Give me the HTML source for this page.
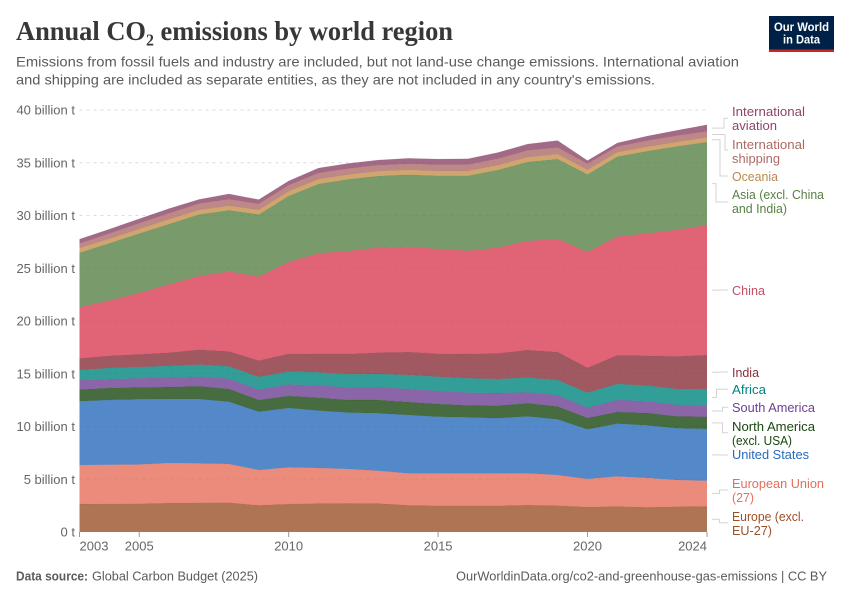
<!DOCTYPE html>
<html lang="en">
<head>
<meta charset="utf-8">
<title>Annual CO2 emissions by world region</title>
<style>
html,body{margin:0;padding:0;background:#fff;}
svg{display:block;font-family:"Liberation Sans",sans-serif;}
</style>
</head>
<body>
<svg id="chart" xmlns="http://www.w3.org/2000/svg" width="850" height="600" viewBox="0 0 850 600">
  <rect x="0" y="0" width="850" height="600" fill="#fff"/>
  <text x="16" y="40" font-family="'Liberation Serif',serif" font-weight="700" font-size="27" fill="#373737" textLength="437" lengthAdjust="spacingAndGlyphs">Annual CO₂ emissions by world region</text>
  <text x="16" y="66.5" font-size="14" fill="#5b5b5b" textLength="723" lengthAdjust="spacingAndGlyphs">Emissions from fossil fuels and industry are included, but not land-use change emissions. International aviation</text>
  <text x="16" y="84.5" font-size="14" fill="#5b5b5b" textLength="639" lengthAdjust="spacingAndGlyphs">and shipping are included as separate entities, as they are not included in any country's emissions.</text>

  <g>
    <rect x="769" y="16" width="65" height="36" fill="#002147"/>
    <rect x="769" y="49.5" width="65" height="2.5" fill="#ce261e"/>
    <text x="801.5" y="31" text-anchor="middle" font-size="12" font-weight="700" fill="#fff" textLength="55" lengthAdjust="spacingAndGlyphs">Our World</text>
    <text x="801.5" y="43.5" text-anchor="middle" font-size="12" font-weight="700" fill="#fff" textLength="37" lengthAdjust="spacingAndGlyphs">in Data</text>
  </g>

  <g id="grid"></g>
  <g id="areas"></g>
  <g id="yticks"></g>
  <g id="xticks"></g>
  <g id="connectors"></g>

  <g font-size="13">
    <g fill="#8c4569">
      <text x="732" y="116" textLength="73" lengthAdjust="spacingAndGlyphs">International</text>
      <text x="732" y="130" textLength="45" lengthAdjust="spacingAndGlyphs">aviation</text>
    </g>
    <g fill="#ad6a66">
      <text x="732" y="149" textLength="73" lengthAdjust="spacingAndGlyphs">International</text>
      <text x="732" y="163" textLength="48" lengthAdjust="spacingAndGlyphs">shipping</text>
    </g>
    <g fill="#b98a4e">
      <text x="732" y="181" textLength="46" lengthAdjust="spacingAndGlyphs">Oceania</text>
    </g>
    <g fill="#578145">
      <text x="732" y="199" textLength="92" lengthAdjust="spacingAndGlyphs">Asia (excl. China</text>
      <text x="732" y="213" textLength="55" lengthAdjust="spacingAndGlyphs">and India)</text>
    </g>
    <g fill="#c15065">
      <text x="732" y="295" textLength="33" lengthAdjust="spacingAndGlyphs">China</text>
    </g>
    <g fill="#883039">
      <text x="732" y="377" textLength="27" lengthAdjust="spacingAndGlyphs">India</text>
    </g>
    <g fill="#00847e">
      <text x="732" y="394" textLength="34" lengthAdjust="spacingAndGlyphs">Africa</text>
    </g>
    <g fill="#6d3e91">
      <text x="732" y="412" textLength="83" lengthAdjust="spacingAndGlyphs">South America</text>
    </g>
    <g fill="#18470f">
      <text x="732" y="431" textLength="83" lengthAdjust="spacingAndGlyphs">North America</text>
      <text x="732" y="445" textLength="60" lengthAdjust="spacingAndGlyphs">(excl. USA)</text>
    </g>
    <g fill="#286bbb">
      <text x="732" y="459" textLength="77" lengthAdjust="spacingAndGlyphs">United States</text>
    </g>
    <g fill="#e56e5a">
      <text x="732" y="488" textLength="92" lengthAdjust="spacingAndGlyphs">European Union</text>
      <text x="732" y="502" textLength="22" lengthAdjust="spacingAndGlyphs">(27)</text>
    </g>
    <g fill="#9a5129">
      <text x="732" y="521" textLength="72" lengthAdjust="spacingAndGlyphs">Europe (excl.</text>
      <text x="732" y="535" textLength="40" lengthAdjust="spacingAndGlyphs">EU-27)</text>
    </g>
  </g>

  <text x="16" y="580.5" font-size="13" font-weight="700" fill="#5b5b5b" textLength="72" lengthAdjust="spacingAndGlyphs">Data source:</text>
  <text x="92" y="580.5" font-size="13" fill="#5b5b5b" textLength="166" lengthAdjust="spacingAndGlyphs">Global Carbon Budget (2025)</text>
  <text x="456" y="580.5" font-size="13" fill="#5b5b5b" textLength="371" lengthAdjust="spacingAndGlyphs">OurWorldinData.org/co2-and-greenhouse-gas-emissions | CC BY</text>
</svg>

<script>
const years = [2003,2004,2005,2006,2007,2008,2009,2010,2011,2012,2013,2014,2015,2016,2017,2018,2019,2020,2021,2022,2023,2024];

// Annual emissions, billion tonnes (stack order: bottom to top)
const europe = [2.65,2.67,2.68,2.75,2.77,2.78,2.53,2.66,2.70,2.72,2.70,2.53,2.49,2.49,2.49,2.56,2.50,2.37,2.43,2.34,2.40,2.43];
const europeanUnion = [3.70,3.71,3.72,3.79,3.73,3.66,3.35,3.47,3.37,3.25,3.10,3.03,3.07,3.07,3.07,3.00,2.90,2.65,2.84,2.78,2.53,2.43];
const unitedStates = [6.04,6.13,6.18,6.06,6.10,5.91,5.52,5.62,5.43,5.34,5.45,5.53,5.37,5.31,5.22,5.40,5.28,4.71,5.00,4.99,4.90,4.90];
const northAmerica = [1.10,1.14,1.13,1.14,1.21,1.20,1.11,1.14,1.23,1.20,1.26,1.23,1.20,1.13,1.19,1.24,1.22,1.07,1.10,1.17,1.13,1.17];
const southAmerica = [0.89,0.85,0.86,0.89,0.91,0.98,0.98,1.09,1.14,1.20,1.20,1.23,1.23,1.20,1.21,1.04,1.06,0.98,1.14,1.11,1.08,1.07];
const africa = [0.98,1.04,1.07,1.10,1.14,1.17,1.20,1.23,1.26,1.24,1.27,1.33,1.36,1.37,1.32,1.39,1.45,1.42,1.52,1.48,1.51,1.52];
const india = [1.10,1.17,1.20,1.27,1.42,1.42,1.55,1.69,1.74,1.92,2.02,2.18,2.18,2.30,2.43,2.62,2.65,2.37,2.72,2.84,3.10,3.26];
const china = [4.84,5.22,5.81,6.47,6.99,7.56,7.96,8.69,9.54,9.76,9.95,9.98,9.92,9.79,10.02,10.33,10.71,10.97,11.25,11.59,12.00,12.29];
const asia = [5.17,5.44,5.65,5.73,5.83,5.82,5.90,6.26,6.58,6.80,6.79,6.83,6.95,7.11,7.36,7.49,7.58,7.36,7.58,7.80,7.90,7.90];
const oceania = [0.42,0.41,0.42,0.43,0.42,0.41,0.42,0.44,0.44,0.45,0.45,0.44,0.44,0.45,0.45,0.45,0.45,0.42,0.41,0.42,0.42,0.42];
const shipping = [0.46,0.52,0.54,0.58,0.60,0.63,0.58,0.58,0.60,0.58,0.58,0.58,0.60,0.60,0.62,0.65,0.65,0.58,0.55,0.58,0.60,0.58];
const aviation = [0.40,0.40,0.42,0.44,0.40,0.50,0.40,0.40,0.46,0.47,0.48,0.52,0.53,0.55,0.58,0.60,0.65,0.30,0.33,0.42,0.50,0.62];

const yTickValues = [0,5,10,15,20,25,30,35,40];
const yTickLabels = ["0 t","5 billion t","10 billion t","15 billion t","20 billion t","25 billion t","30 billion t","35 billion t","40 billion t"];
const xTickYears = [2003,2005,2010,2015,2020,2024];

const seriesValues = [europe,europeanUnion,unitedStates,northAmerica,southAmerica,africa,india,china,asia,oceania,shipping,aviation];
const seriesNames = ["europe","european-union","united-states","north-america","south-america","africa","india","china","asia","oceania","international-shipping","international-aviation"];
const seriesColors = ["#9a5129","#e56e5a","#286bbb","#18470f","#6d3e91","#00847e","#883039","#d93c54","#578145","#c4904a","#ad6a66","#8c4569"];

const NS = "http://www.w3.org/2000/svg";
const plotLeft = 79.5, plotRight = 707, plotTop = 110, plotBottom = 532, yMax = 40;
function xScale(year){
  return plotLeft + (year - years[0]) / (years[years.length-1] - years[0]) * (plotRight - plotLeft);
}
function yScale(v){
  return plotBottom - v / yMax * (plotBottom - plotTop);
}
function make(tag, parent){
  const el = document.createElementNS(NS, tag);
  document.getElementById(parent).appendChild(el);
  return el;
}

// Grid
yTickValues.forEach(function(v, i){
  if (v === 0) return;
  const line = make("line", "grid");
  
  
  line.setAttribute("x1", plotLeft);
  line.setAttribute("x2", plotRight);
  line.setAttribute("y1", yScale(v));
  line.setAttribute("y2", yScale(v));
  line.setAttribute("stroke", "#dddddd");
  line.setAttribute("stroke-dasharray", "3,4");
});

// Stacked areas
const baseline = years.map(function(){ return 0; });
const bandMiddles = [];
seriesValues.forEach(function(values, s){
  const tops = values.map(function(v, i){ return baseline[i] + v; });
  const upper = years.map(function(y, i){ return xScale(y).toFixed(2) + "," + yScale(tops[i]).toFixed(2); });
  const lower = years.map(function(y, i){ return xScale(y).toFixed(2) + "," + yScale(baseline[i]).toFixed(2); }).reverse();
  const last = years.length - 1;
  bandMiddles.push((baseline[last] + tops[last]) / 2);

  const area = make("polygon", "areas");
  
  
  area.setAttribute("points", upper.concat(lower).join(" "));
  area.setAttribute("fill", seriesColors[s]);
  area.setAttribute("fill-opacity", "0.8");

  const edge = make("polyline", "areas");
  
  
  edge.setAttribute("points", upper.join(" "));
  edge.setAttribute("fill", "none");
  edge.setAttribute("stroke", seriesColors[s]);
  edge.setAttribute("stroke-opacity", "0.35");
  edge.setAttribute("stroke-width", "0.5");

  tops.forEach(function(t, i){ baseline[i] = t; });
});

// Y axis labels
yTickValues.forEach(function(v, i){
  const label = make("text", "yticks");
  
  
  label.setAttribute("x", 75);
  label.setAttribute("y", yScale(v) + 4.5);
  label.setAttribute("text-anchor", "end");
  label.setAttribute("font-size", "13");
  label.setAttribute("fill", "#666666");
  label.textContent = yTickLabels[i];
});

// X axis ticks and labels
xTickYears.forEach(function(year, i){
  const tick = make("line", "xticks");
  
  
  tick.setAttribute("x1", xScale(year));
  tick.setAttribute("x2", xScale(year));
  tick.setAttribute("y1", plotBottom);
  tick.setAttribute("y2", plotBottom + 5);
  tick.setAttribute("stroke", "#999999");

  const label = make("text", "xticks");
  
  
  label.setAttribute("x", xScale(year));
  label.setAttribute("y", 550.5);
  label.setAttribute("text-anchor", i === 0 ? "start" : (i === xTickYears.length - 1 ? "end" : "middle"));
  label.setAttribute("font-size", "13");
  label.setAttribute("fill", "#666666");
  label.textContent = String(year);
});

// Connectors: from the end of each band to its label
const connectorLabelY = [522.7,490,455,432.7,407.3,389.3,372,290,202,176,150,118.3];
const connectorElbowX = [719.5,719.5,719.5,722.5,722.5,716.5,719.5,719.5,716,720,725,724];
bandMiddles.forEach(function(mid, s){
  const y0 = yScale(mid);
  const y1 = connectorLabelY[s];
  const ex = connectorElbowX[s];
  const path = make("polyline", "connectors");
  
  
  path.setAttribute("points", "712," + y0.toFixed(1) + " " + ex + "," + y0.toFixed(1) + " " + ex + "," + y1 + " 728," + y1);
  path.setAttribute("fill", "none");
  path.setAttribute("stroke", "#d4d4d4");
  path.setAttribute("stroke-width", "1");
});
</script>
</body>
</html>
